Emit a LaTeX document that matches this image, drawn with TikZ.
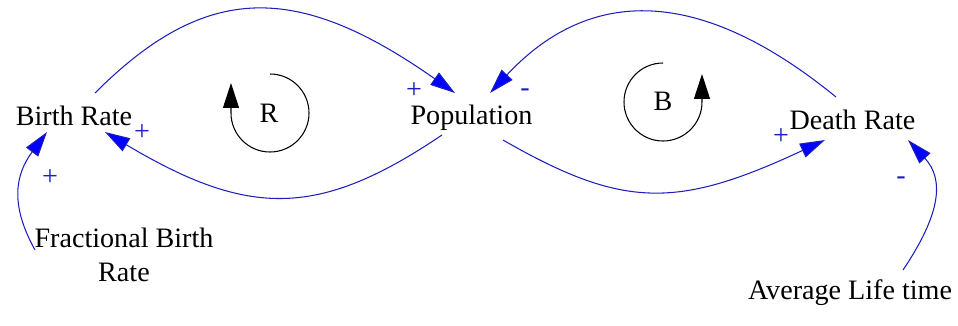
\documentclass[tikz,border=0pt]{standalone}
\usepackage{fontspec}
\setmainfont{Liberation Serif}
\usetikzlibrary{arrows.meta}
\definecolor{linkblue}{RGB}{30,30,190}

\begin{document}
\begin{tikzpicture}[x=0.02cm, y=0.02cm,
  var/.style={font=\fontsize{16}{19.35}\selectfont, inner sep=0pt, anchor=base, align=center},
  sign/.style={font=\fontsize{16}{19.35}\selectfont, inner sep=0pt, text=linkblue},
  link/.style={draw=linkblue, line width=0.6pt, -{Triangle[length=0.5cm, width=0.3cm, fill=blue]}},
  loopsym/.style={draw=black, line width=0.6pt, -{Triangle[length=0.5cm, width=0.32cm, fill=black]}}]
  % Frame
  \useasboundingbox (0,0) rectangle (958,-325);
  % Variables
  \node[var] (br) at (74,-125) {Birth Rate};
  \node[var] (pop) at (471.5,-124) {Population};
  \node[var] (dr) at (852.5,-129) {Death Rate};
  \node[var] (fbr) at (124,-281) {Fractional Birth\\Rate};
  \node[var] (alt) at (850,-299) {Average Life time};
  % Loop symbols
  \node[var] (rl) at (269,-122) {R};
  \node[var] (bl) at (663,-110) {B};
  \draw[loopsym] ([shift={(1,48)}]rl.base) arc[start angle=90, end angle=-180, radius=39] -- ++(0,30);
  \draw[loopsym] ([shift={(0,47)}]bl.base) arc[start angle=90, end angle=360, radius=39] -- ++(0,28);
  % Causal links
  \draw[link] ([shift={(21,32)}]br.base) .. controls (206,18) and (297,18) .. ([shift={(-16.5,31)}]pop.base);
  \draw[link] ([shift={(-29.5,-11)}]pop.base) .. controls (319,-218) and (249,-218) .. ([shift={(31,-7)}]br.base);
  \draw[link] ([shift={(-16.5,32)}]dr.base) .. controls (700,14) and (590,14) .. ([shift={(18.5,31)}]pop.base);
  \draw[link] ([shift={(31.5,-16)}]pop.base) .. controls (623,-209) and (677,-209) .. ([shift={(-27.5,-11)}]dr.base);
  \draw[link] ([shift={(53,29)}]alt.base) .. controls (940,-215) and (945,-180) .. ([shift={(55.5,-11)}]dr.base);
  \draw[link] ([shift={(-89,31)}]fbr.base) .. controls (10,-205) and (15,-175) .. ([shift={(-27,-7)}]br.base);
  % Polarities
  \node[sign] (s1) at (142,-133) {+};
  \node[sign] (s2) at (50,-178) {+};
  \node[sign] (s3) at (414,-91) {+};
  \node[sign] (s4) at (525,-93) {-};
  \node[sign] (s5) at (781,-137) {+};
  \node[sign] (s6) at (901,-181) {-};
\end{tikzpicture}
\end{document}
